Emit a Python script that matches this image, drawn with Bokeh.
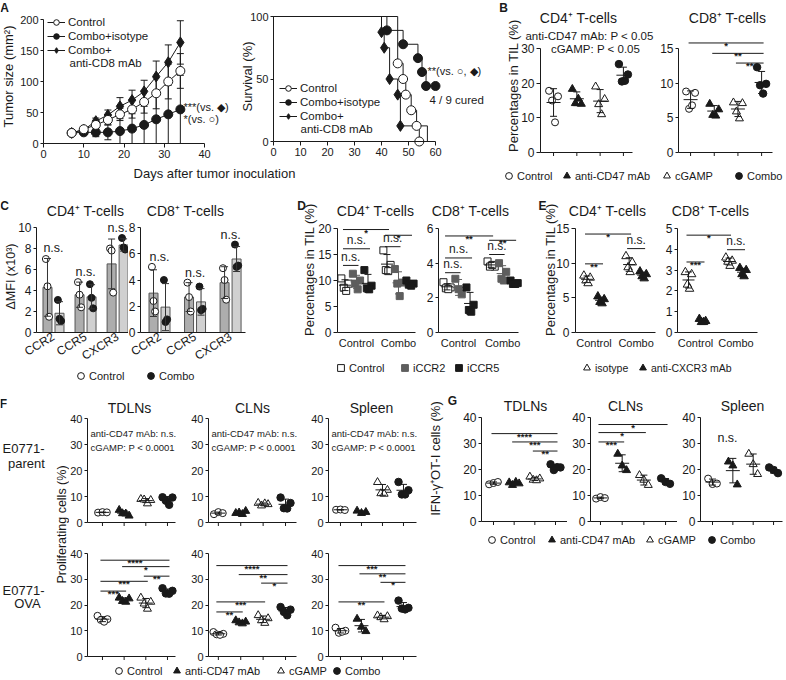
import statistics as st
from math import pi

from bokeh.plotting import figure
from bokeh.models import Range1d, FixedTicker, Label, Legend, LegendItem, Spacer
from bokeh.layouts import row, column
from bokeh.embed import file_html
from bokeh.resources import INLINE

# ---------------- A: tumour growth (mm2) ----------------
days = [7, 10, 13, 16, 19, 22, 25, 28, 31, 34]
tumor_control = [17, 23, 30, 38, 47, 55, 67, 81, 100, 117]
tumor_control_sd = [0, 3, 4, 8, 10, 14, 18, 25, 28, 28]
tumor_combo = [17, 18, 18, 18, 20, 24, 30, 39, 47, 55]
tumor_combo_sd = [0, 3, 7, 12, 20, 24, 30, 39, 47, 55]
tumor_cd8 = [17, 22, 36, 46, 60, 70, 84, 108, 131, 163]
tumor_cd8_sd = [0, 3, 5, 8, 14, 16, 18, 25, 28, 35]

# ---------------- A: survival (%) ----------------
surv_control_t = [0, 46, 48, 49, 51, 53, 54]
surv_control = [100, 62.5, 50, 37.5, 25, 12.5, 0]
surv_combo_t = [0, 42, 48, 53.5, 55, 56.5, 60]
surv_combo = [100, 88.9, 77.8, 66.7, 55.6, 44.4, 44.4]
surv_cd8_t = [0, 40, 41, 43, 46, 47, 57]
surv_cd8 = [100, 87.5, 75, 50, 37.5, 12.5, 0]

# ---------------- B ----------------
groups4 = ["Control", "anti-CD47 mAb", "cGAMP", "Combo"]
B_cd4 = [[17.8, 16.2, 15.0, 8.7], [18.3, 14.0, 14.2, 15.5], [19.0, 15.4, 13.9, 11.0], [25.5, 22.5, 20.5, 20.7]]
B_cd8 = [[8.8, 8.6, 6.3, 6.8], [7.0, 6.2, 5.4, 5.3], [7.2, 7.1, 5.9, 4.9], [12.3, 9.9, 9.7, 8.5]]
B_cd8_sig = [(1, 4, "*", 15.8), (2, 4, "**", 14.3), (3, 4, "**", 12.9)]

# ---------------- C ----------------
C_receptors = ["CCR2", "CCR5", "CXCR3"]
C_cd4_control = [[7.0, 4.4, 1.5], [4.8, 3.6, 2.4], [8.0, 7.8, 3.8]]
C_cd4_combo = [[3.1, 1.3, 1.1], [4.6, 3.3, 2.3], [9.0, 8.1, 7.9]]
C_cd8_control = [[5.0, 2.4, 1.6], [3.8, 2.7, 1.6], [4.9, 4.0, 2.5]]
C_cd8_combo = [[4.0, 0.8, 1.0], [3.5, 1.7, 1.8], [6.7, 5.0, 5.1]]

# ---------------- D ----------------
D_groups = ["Control", "Combo"]
D_treat = ["Control", "iCCR2", "iCCR5"]
D_cd4_control = [[10.4, 9.4, 8.6, 8.0], [11.3, 10.0, 9.4, 8.3], [12.0, 9.0, 8.5, 8.3]]
D_cd4_combo = [[15.8, 13.0, 12.0, 11.8], [12.2, 9.6, 9.4, 7.0], [10.0, 9.4, 9.2, 9.0]]
D_cd8_control = [[2.9, 2.6, 2.55, 2.5], [3.1, 2.5, 2.2], [2.6, 1.6, 1.3, 1.2]]
D_cd8_combo = [[4.1, 3.8, 3.8, 3.9], [4.0, 3.5, 3.1, 3.0], [3.0, 2.85, 2.8, 2.8]]
D_cd4_sig = [((0, 0), (1, 0), "*", 19.8), ((1, 0), (1, 2), "*", 18.7), ((0, 0), (0, 2), "n.s.", 16.1),
             ((0, 0), (0, 1), "n.s.", 12.9), ((1, 0), (1, 1), "n.s.", 16.5)]
D_cd8_sig = [((0, 0), (1, 0), "**", 5.57), ((1, 0), (1, 2), "**", 5.32), ((0, 0), (0, 2), "n.s.", 4.3),
             ((0, 0), (0, 1), "n.s.", 3.45), ((1, 0), (1, 1), "n.s.", 4.5)]

# ---------------- E ----------------
E_treat = ["isotype", "anti-CXCR3 mAb"]
E_cd4_control = [[8.2, 7.9, 7.5, 7.1], [5.2, 4.8, 4.4, 4.2]]
E_cd4_combo = [[11.0, 10.1, 9.4, 8.7], [8.8, 8.4, 8.1, 7.8]]
E_cd8_control = [[2.9, 2.8, 2.3, 2.1], [0.65, 0.55, 0.5, 0.5]]
E_cd8_combo = [[3.6, 3.45, 3.4, 3.2], [3.1, 3.0, 2.8, 2.7]]
E_cd4_sig = [((0, 0), (1, 0), "*", 14.2), ((0, 0), (0, 1), "**", 9.9), ((1, 0), (1, 1), "n.s.", 12.1)]
E_cd8_sig = [((0, 0), (1, 0), "*", 4.68), ((0, 0), (0, 1), "***", 3.39), ((1, 0), (1, 1), "n.s.", 3.98)]

# ---------------- F: proliferating cells (%) ----------------
organs = ["TDLNs", "CLNs", "Spleen"]
F_parent_TDLN = [[3.8, 4.0, 3.9], [4.8, 2.6, 3.5, 3.4], [9.0, 8.6, 8.8, 7.3], [9.7, 9.6, 8.4, 6.8]]
F_parent_CLN = [[3.2, 4.0, 3.6], [3.6, 4.4, 3.8, 3.2], [7.5, 7.0, 6.5, 7.3], [9.6, 7.5, 5.5, 5.4]]
F_parent_spleen = [[4.9, 5.0, 4.8], [4.5, 3.6, 4.0], [15.5, 12.5, 11.2, 11.0], [15.6, 12.4, 10.8, 10.8]]
F_ova_TDLN = [[15.8, 14.5, 14.2, 13.5], [22.8, 22.5, 21.5, 21.2], [22.8, 21.2, 20.5, 18.5], [26.5, 25.5, 24.5, 24.4]]
F_ova_CLN = [[9.5, 8.8, 8.6, 8.4], [14.0, 13.5, 13.2, 12.8], [16.0, 14.8, 14.0, 13.0], [19.2, 18.2, 17.3, 16.0]]
F_ova_spleen = [[11.2, 10.0, 9.2, 9.6], [14.6, 11.5, 9.8], [15.9, 15.6, 15.2, 14.4], [21.7, 18.9, 18.6, 18.3]]
F_ova_TDLN_sig = [(1, 4, "****", 37.4), (2, 4, "*", 34.9), (3, 4, "**", 31.2), (1, 3, "***", 29.2), (1, 2, "***", 25.4)]
F_ova_CLN_sig = [(1, 4, "****", 35.3), (2, 4, "**", 31.8), (3, 4, "*", 28.5), (1, 3, "***", 21.2), (1, 2, "**", 17.3)]
F_ova_spleen_sig = [(1, 4, "***", 35.3), (2, 4, "**", 32.1), (3, 4, "*", 28.8), (1, 3, "**", 21.2)]
F_stats = ["anti-CD47 mAb: n.s.", "cGAMP: P < 0.0001"]

# ---------------- G: IFN-g+ OT-I cells (%) ----------------
G_TDLN = [[14.3, 14.8, 15.2], [15.0, 14.6, 14.0, 15.2], [17.2, 16.5, 16.0, 15.8], [22.0, 20.8, 19.8, 20.9]]
G_CLN = [[8.8, 9.4, 9.0], [26.0, 21.5, 19.7], [17.8, 16.0, 14.0], [16.6, 15.2, 14.5]]
G_spleen = [[16.5, 14.4, 14.6], [23.0, 21.5, 14.2], [26.0, 22.0, 18.2], [20.8, 19.8, 18.6]]
G_TDLN_sig = [(1, 4, "****", 33.8), (2, 4, "***", 30.6), (3, 4, "**", 27.1)]
G_CLN_sig = [(1, 4, "*", 37.3), (1, 3, "*", 34.2), (1, 2, "***", 30.6)]

# =====================================================================
FONT = "Liberation Sans"
INK = "#1a1a1a"
GRAY = "#5e5e5e"
BAR_CTRL = "#adadad"
BAR_COMBO = "#d0d0d0"


def LX(x):
    return int(round(x))


def LY(y):
    return int(round(y))


META = {}


def make_fig(outer, frame, xr, yr, axes=True):
    """Whole canvas is the frame; the plotting area is emulated with extended
    ranges and axes fixed at the data edge of that area."""
    ox0, oy0, ox1, oy1 = outer
    fx0, fy0, fx1, fy1 = frame
    W, H = LX(ox1) - LX(ox0), LY(oy1) - LY(oy0)
    fl, fr = LX(fx0) - LX(ox0), LX(fx1) - LX(ox0)
    ft, fb = LY(fy0) - LY(oy0), LY(fy1) - LY(oy0)
    dx = (xr[1] - xr[0]) / (fr - fl)
    dy = (yr[1] - yr[0]) / (fb - ft)
    X = (xr[0] - fl * dx, xr[1] + (W - fr) * dx)
    Y = (yr[0] - (H - fb) * dy, yr[1] + ft * dy)
    kw = dict(width=W, height=H, x_range=Range1d(*X), y_range=Range1d(*Y), min_border=0,
              output_backend="svg", toolbar_location=None, tools="", title=None)
    if not axes:
        kw["x_axis_type"] = None
        kw["y_axis_type"] = None
    p = figure(**kw)
    p.outline_line_color = None
    p.background_fill_color = "white"
    p.border_fill_color = "white"
    p.xgrid.visible = False
    p.ygrid.visible = False
    if axes:
        p.yaxis[0].fixed_location = xr[0]
        p.xaxis[0].fixed_location = yr[0]
    META[p.id] = (frame, xr, yr)
    return p


def blank(outer):
    return make_fig(outer, outer, (0, 1), (0, 1), axes=False)


def to_data(p, rx, ry):
    (fx0, fy0, fx1, fy1), (x0, x1), (y0, y1) = META[p.id]
    return (x0 + (rx - fx0) / (fx1 - fx0) * (x1 - x0),
            y0 + (fy1 - ry) / (fy1 - fy0) * (y1 - y0))


def to_ref(p, x, y):
    (fx0, fy0, fx1, fy1), (x0, x1), (y0, y1) = META[p.id]
    return (fx0 + (x - x0) / (x1 - x0) * (fx1 - fx0),
            fy1 - (y - y0) / (y1 - y0) * (fy1 - fy0))


def ppu(p):
    (fx0, _, fx1, _), (x0, x1), _ = META[p.id]
    return (fx1 - fx0) / (x1 - x0)


def ppu_y(p):
    (_, fy0, _, fy1), _, (y0, y1) = META[p.id]
    return (fy1 - fy0) / (y1 - y0)


def txt(p, rx, ry, s, size=12, align="center", baseline="middle", style="normal", angle=0.0):
    x, y = to_data(p, rx, ry)
    p.add_layout(Label(x=x, y=y, text=s, text_font=FONT, text_font_size=f"{size}px",
                       text_font_style=style, text_color=INK, text_align=align,
                       text_baseline=baseline, angle=angle))


def style_ax(ax, ticks, font=12, tick_out=4, standoff=2, bounds=None):
    ax.ticker = FixedTicker(ticks=ticks)
    if bounds is not None:
        ax.bounds = bounds
    ax.axis_line_color = INK
    ax.major_tick_line_color = INK if tick_out else None
    ax.minor_tick_line_color = None
    ax.major_tick_in = 0
    ax.major_tick_out = tick_out
    ax.major_label_standoff = standoff
    ax.major_label_text_font = FONT
    ax.major_label_text_font_size = f"{font}px"
    ax.major_label_text_color = INK


def yax(p, ticks, font=12, tick_out=4, standoff=2):
    style_ax(p.yaxis[0], ticks, font, tick_out, standoff, (ticks[0], ticks[-1]))


def ylabel(p, rx, ry, s, size=13):
    txt(p, rx, ry, s, size, angle=pi / 2)


def xax_num(p, ticks, font=11):
    style_ax(p.xaxis[0], ticks, font, 4, 2, (ticks[0], ticks[-1]))


def xax_cat(p, n, tick_len=3.5):
    """x axis line plus plain tick marks under each group (no tick labels)."""
    _, xr, _ = META[p.id]
    style_ax(p.xaxis[0], [], 12, 0, 0, xr)
    cats = list(range(1, n + 1))
    p.segment(cats, [0] * n, cats, [-tick_len / ppu_y(p)] * n, line_color=INK, line_width=1)


def xax_lab(p, labels, font=12, standoff=4, orient=None):
    _, xr, _ = META[p.id]
    ax = p.xaxis[0]
    style_ax(ax, list(range(1, len(labels) + 1)), font, 0, standoff, xr)
    ax.major_label_overrides = {i + 1: s for i, s in enumerate(labels)}
    if orient is not None:
        ax.major_label_orientation = orient


JIT = {3: [-4.0, 0.0, 4.0], 4: [-4.5, 4.5, -1.5, 1.5]}


def dots(p, xc, vals, marker, fill, line=INK, size=7, jit=1.0, stat=INK, mean_w=14, cap_w=7):
    u = ppu(p)
    xs = [xc + o * jit / u for o in JIT[len(vals)]]
    p.scatter(xs, vals, marker=marker, size=size, fill_color=fill, line_color=line, line_width=1)
    m = st.mean(vals)
    s = st.stdev(vals)
    p.segment([xc], [m - s], [xc], [m + s], line_color=stat, line_width=1)
    p.scatter([xc, xc], [m - s, m + s], marker="dash", size=cap_w, line_color=stat, line_width=1)
    if mean_w:
        p.scatter([xc], [m], marker="dash", size=mean_w, line_color=stat, line_width=1)
    return m, s


def sig(p, xa, xb, yv, label):
    u = ppu(p)
    p.segment([xa - 2 / u], [yv], [xb + 2 / u], [yv], line_color=INK, line_width=1)
    rx, ry = to_ref(p, (xa + xb) / 2, yv)
    if label.startswith("*"):
        txt(p, rx, ry + 2.5, label, size=9.5, baseline="alphabetic", style="bold")
    else:
        txt(p, rx, ry - 1.5, label, size=12, baseline="bottom")


def style_legend(leg, font, gw, gh, spacing, standoff):
    leg.label_text_font = FONT
    leg.label_text_font_size = f"{font}px"
    leg.label_text_color = INK
    leg.glyph_width = gw
    leg.glyph_height = gh
    leg.label_height = gh
    leg.label_width = 0
    leg.spacing = spacing
    leg.label_standoff = standoff
    leg.padding = 0
    leg.margin = 0
    leg.border_line_color = None
    leg.background_fill_alpha = 0


def legend_fig(outer, entries, centers, y_ref, font=11, glyph=17):
    """One single-entry legend per key, each placed at its marker centre."""
    p = blank(outer)
    for (label, marker, fill, line), cx in zip(entries, centers):
        # key-only renderer: its single point lies outside the visible range
        r = p.scatter(x=[-5], y=[-5], marker=marker, fill_color=fill, line_color=line, size=7)
        leg = Legend(items=[LegendItem(label=label, renderers=[r])],
                     location=(int(round(cx - glyph / 2 - outer[0])),
                               int(round(outer[3] - (y_ref + glyph / 2)))))
        style_legend(leg, font, glyph, glyph, 0, 0)
        p.add_layout(leg)
    return p


def inner_legend(p, outer, items, x_ref, top_ref, row_h=14):
    leg = Legend(items=items, location=(LX(x_ref) - LX(outer[0]),
                                        LY(outer[3]) - LY(top_ref) - row_h * len(items)))
    style_legend(leg, 11.5, 18, row_h, 0, 3)
    p.add_layout(leg)


MARK4 = [("circle", "white", 7), ("triangle", INK, 8), ("triangle", "white", 8), ("circle", INK, 7.5)]
LEG4 = [(g, m, f, INK) for g, (m, f, _) in zip(groups4, MARK4)]

# ============================ ROW 1 ============================
A1_out = (0, 0, 238, 164)
A1 = make_fig(A1_out, (43, 19, 204, 143), (0, 40), (0, 200))
yax(A1, [0, 50, 100, 150, 200], font=11, tick_out=3)
xax_num(A1, [0, 10, 20, 30, 40])
ylabel(A1, 8, 76, "Tumor size (mm²)", 13)


def growth(p, y, sd, marker, fill, size):
    lo = [max(m - s, 0) for m, s in zip(y, sd)]
    hi = [m + s for m, s in zip(y, sd)]
    p.segment(days, lo, days, hi, line_color=INK, line_width=1)
    p.scatter(days + days, lo + hi, marker="dash", size=7, line_color=INK, line_width=1)
    ln = p.line(days, y, line_color=INK, line_width=1)
    sc = p.scatter(days, y, marker=marker, size=size, fill_color=fill, line_color=INK, line_width=1)
    return ln, sc


gl_combo = growth(A1, tumor_combo, tumor_combo_sd, "circle", INK, 9)
gl_cd8 = growth(A1, tumor_cd8, tumor_cd8_sd, "diamond", INK, 11)
gl_ctrl = growth(A1, tumor_control, tumor_control_sd, "circle", "white", 9)
inner_legend(A1, A1_out, [LegendItem(label="Control", renderers=list(gl_ctrl)),
                          LegendItem(label="Combo+isotype", renderers=list(gl_combo)),
                          LegendItem(label="Combo+", renderers=list(gl_cd8))], 47, 15)
txt(A1, 69, 62, "anti-CD8 mAb", 11.5, align="left")
txt(A1, 183, 106, "***(vs. ◆)", 11, align="left")
txt(A1, 183, 118, "*(vs. ○)", 11, align="left")
txt(A1, 4, 0, "A", 12, style="bold", baseline="top")

A2_out = (238, 0, 490, 164)
A2 = make_fig(A2_out, (273, 16, 435, 141), (0, 60), (0, 100))
yax(A2, [0, 50, 100], font=11, tick_out=3)
xax_num(A2, [0, 10, 20, 30, 40, 50, 60])
ylabel(A2, 247, 76, "Survival (%)", 13)


def km(p, t, s, marker, fill, size, last=True):
    ln = p.step(t, s, mode="after", line_color=INK, line_width=1)
    end = len(t) if last else len(t) - 1
    sc = p.scatter(t[1:end], s[1:end], marker=marker, size=size, fill_color=fill,
                   line_color=INK, line_width=1)
    return ln, sc


km_cd8 = km(A2, surv_cd8_t, surv_cd8, "diamond", INK, 11, last=False)
km_combo = km(A2, surv_combo_t, surv_combo, "circle", INK, 9)
km_ctrl = km(A2, surv_control_t, surv_control, "circle", "white", 9)
inner_legend(A2, A2_out, [LegendItem(label="Control", renderers=list(km_ctrl)),
                          LegendItem(label="Combo+isotype", renderers=list(km_combo)),
                          LegendItem(label="Combo+", renderers=list(km_cd8))], 279, 81)
txt(A2, 300, 128, "anti-CD8 mAb", 11.5, align="left")
txt(A2, 427, 70, "**(vs. ○, ◆)", 11, align="left")
txt(A2, 429, 99, "4 / 9 cured", 11.5, align="left")

A_lab = blank((0, 164, 490, 192))
txt(A_lab, 214, 173, "Days after tumor inoculation", 13)

# --- B
B1 = make_fig((490, 0, 658, 164), (540, 48, 632, 152), (0.44, 4.39), (0, 30))
yax(B1, [0, 10, 20, 30])
xax_cat(B1, 4)
ylabel(B1, 513, 85, "Percentages in TIL (%)", 13)
for i, vals in enumerate(B_cd4):
    mk, fl, sz = MARK4[i]
    dots(B1, i + 1, vals, mk, fl, size=sz)
txt(B1, 503, 0, "B", 12, style="bold", baseline="top")
txt(B1, 578, 17, "CD4⁺ T-cells", 14)
txt(B1, 589, 35, "anti-CD47 mAb: P < 0.05", 11.5)
txt(B1, 595, 48, "cGAMP: P < 0.05", 11.5)

B2 = make_fig((658, 0, 783, 164), (678, 48, 772, 152), (0.49, 4.46), (0, 15))
yax(B2, [0, 5, 10, 15], tick_out=3)
xax_cat(B2, 4)
for i, vals in enumerate(B_cd8):
    mk, fl, sz = MARK4[i]
    dots(B2, i + 1, vals, mk, fl, size=sz)
for a, b, lab, yv in B_cd8_sig:
    sig(B2, a, b, yv, lab)
txt(B2, 727, 17, "CD8⁺ T-cells", 14)

B_leg = legend_fig((490, 164, 783, 192), LEG4, [508, 567, 667, 738], 175)

# ============================ ROW 2 ============================


def bars(p, ctrl, combo, off_px=6, w_px=9):
    u = ppu(p)
    off, w = off_px / u, w_px / u
    for gi, (a, b) in enumerate(zip(ctrl, combo)):
        top = -1
        for xc, vals, fill, mfill in ((gi + 1 - off, a, BAR_CTRL, "white"),
                                      (gi + 1 + off, b, BAR_COMBO, INK)):
            p.vbar(x=[xc], top=[st.mean(vals)], width=w, bottom=0, fill_color=fill,
                   line_color="#555555", line_width=1)
            m, s = dots(p, xc, vals, "circle", mfill, size=7, jit=0.4, mean_w=0, stat="#333333")
            top = max(top, max(vals), m + s)
        rx, ry = to_ref(p, gi + 1, top)
        txt(p, rx, ry - 10, "n.s.", 12.5)


C1 = make_fig((0, 192, 128, 366), (36, 227, 128, 332), (0.47, 3.34), (0, 10))
yax(C1, [0, 2, 4, 6, 8, 10], tick_out=3)
xax_lab(C1, C_receptors, orient=0.55, standoff=3)
ylabel(C1, 10, 276, "ΔMFI (x10³)", 12.5)
bars(C1, C_cd4_control, C_cd4_combo)
txt(C1, 4, 198, "C", 12, style="bold", baseline="top")
txt(C1, 85, 210, "CD4⁺ T-cells", 14)

C2 = make_fig((128, 192, 262, 366), (140, 227, 245, 332), (0.465, 3.42), (0, 8))
yax(C2, [0, 2, 4, 6, 8], tick_out=3)
xax_lab(C2, C_receptors, orient=0.55, standoff=3)
bars(C2, C_cd8_control, C_cd8_combo)
txt(C2, 185, 210, "CD8⁺ T-cells", 14)

C_leg = legend_fig((0, 366, 262, 384), [("Control", "circle", "white", INK), ("Combo", "circle", INK, INK)],
                   [80, 151], 375)

D_MARK = [("square", "white", INK), ("square", GRAY, GRAY), ("square", INK, INK)]
E_MARK = [("triangle", "white", INK), ("triangle", INK, INK)]


def grouped(p, ctrl, combo, marks, sub_px, size, jit=0.8, mean_w=12):
    u = ppu(p)
    n = len(marks)
    pos = {}
    for g, groups in enumerate((ctrl, combo)):
        for s, vals in enumerate(groups):
            xc = g + 1 + (s - (n - 1) / 2) * sub_px / u
            pos[(g, s)] = xc
            mk, fl, ln = marks[s]
            dots(p, xc, vals, mk, fl, line=ln, size=size, stat=ln, jit=jit, mean_w=mean_w)
    return pos


D1 = make_fig((262, 192, 426, 356), (337, 228, 415, 332), (0.548, 2.405), (0, 20))
yax(D1, [0, 5, 10, 15, 20])
xax_lab(D1, D_groups, font=11, standoff=4)
ylabel(D1, 309, 269, "Percentages in TIL (%)", 13)
posD1 = grouped(D1, D_cd4_control, D_cd4_combo, D_MARK, 11.5, 7)
for a, b, lab, yv in D_cd4_sig:
    sig(D1, posD1[a], posD1[b], yv, lab)
txt(D1, 301, 198, "D", 12, style="bold", baseline="top")
txt(D1, 375, 210, "CD4⁺ T-cells", 14)

D2 = make_fig((426, 192, 530, 356), (438, 228, 518, 332), (0.545, 2.36), (0, 6))
yax(D2, [0, 2, 4, 6], tick_out=3)
xax_lab(D2, D_groups, font=11, standoff=4)
posD2 = grouped(D2, D_cd8_control, D_cd8_combo, D_MARK, 11.5, 7)
for a, b, lab, yv in D_cd8_sig:
    sig(D2, posD2[a], posD2[b], yv, lab)
txt(D2, 470, 210, "CD8⁺ T-cells", 14)

D_leg = legend_fig((262, 356, 530, 384), [(t, m, f, l) for t, (m, f, l) in zip(D_treat, D_MARK)],
                   [341, 404, 458], 368)

E1 = make_fig((530, 192, 665, 356), (575, 228, 655, 332), (0.56, 2.46), (0, 15))
yax(E1, [0, 5, 10, 15])
xax_lab(E1, D_groups, font=11, standoff=4)
ylabel(E1, 550, 269, "Percentages in TIL (%)", 13)
posE1 = grouped(E1, E_cd4_control, E_cd4_combo, E_MARK, 14, 8.5, jit=0.7, mean_w=12)
for a, b, lab, yv in E_cd4_sig:
    sig(E1, posE1[a], posE1[b], yv, lab)
txt(E1, 542, 198, "E", 12, style="bold", baseline="top")
txt(E1, 607, 210, "CD4⁺ T-cells", 14)

E2 = make_fig((665, 192, 783, 356), (677, 228, 757, 332), (0.556, 2.53), (0, 5))
yax(E2, [0, 1, 2, 3, 4, 5], tick_out=3)
xax_lab(E2, D_groups, font=11, standoff=4)
posE2 = grouped(E2, E_cd8_control, E_cd8_combo, E_MARK, 14, 8.5, jit=0.7, mean_w=12)
for a, b, lab, yv in E_cd8_sig:
    sig(E2, posE2[a], posE2[b], yv, lab)
txt(E2, 710, 210, "CD8⁺ T-cells", 14)

E_leg = legend_fig((530, 356, 783, 384), [(t, m, f, l) for t, (m, f, l) in zip(E_treat, E_MARK)],
                   [586, 642], 367, font=10.5)

# ============================ ROW 3 ============================
F_cols = [(69, 185, 87, 175, (0.31, 4.37)), (185, 305, 208, 296, (0.56, 4.49)), (305, 425, 328, 416, (0.43, 4.62))]
F_title_x = [129, 252, 371]
F_top_data = [F_parent_TDLN, F_parent_CLN, F_parent_spleen]
F_bot_data = [F_ova_TDLN, F_ova_CLN, F_ova_spleen]
F_bot_sig = [F_ova_TDLN_sig, F_ova_CLN_sig, F_ova_spleen_sig]


def scatter4(p, data):
    for i, vals in enumerate(data):
        mk, fl, sz = MARK4[i]
        dots(p, i + 1, vals, mk, fl, size=sz, jit=1.1)


F_top, F_bot = [], []
for k, (ox0, ox1, fx0, fx1, xr) in enumerate(F_cols):
    pt = make_fig((ox0, 384, ox1, 538), (fx0, 418, fx1, 522), xr, (0, 40))
    yax(pt, [0, 10, 20, 30, 40], font=11, tick_out=3, standoff=2)
    xax_cat(pt, 4)
    scatter4(pt, F_top_data[k])
    txt(pt, F_title_x[k], 407, organs[k], 14)
    txt(pt, fx0 + 3, 433, F_stats[0], 9.5, align="left")
    txt(pt, fx0 + 3, 447, F_stats[1], 9.5, align="left")
    F_top.append(pt)

    pb = make_fig((ox0, 538, ox1, 663), (fx0, 553, fx1, 656), xr, (0, 40))
    yax(pb, [0, 10, 20, 30, 40], font=11, tick_out=3, standoff=2)
    xax_cat(pb, 4)
    scatter4(pb, F_bot_data[k])
    for a, b, lab, yv in F_bot_sig[k]:
        sig(pb, a, b, yv, lab)
    F_bot.append(pb)

F_left = blank((0, 384, 69, 663))
txt(F_left, 3, 396, "F", 12, style="bold", baseline="top")
txt(F_left, 23, 448, "E0771-", 13)
txt(F_left, 26, 463, "parent", 13)
txt(F_left, 23, 590, "E0771-", 13)
txt(F_left, 27, 603, "OVA", 13)
txt(F_left, 61.5, 524, "Proliferating cells (%)", 12.5, angle=pi / 2)

F_leg = legend_fig((0, 663, 425, 678), LEG4, [118, 177, 280, 337], 670.5)

G_cols = [(425, 567, 481, 567, (0.42, 4.58)), (567, 677, 590, 677, (0.54, 4.55)), (677, 783, 700, 782, (0.41, 4.44))]
G_title_x = [525, 625, 742]
G_data = [G_TDLN, G_CLN, G_spleen]
G_sig = [G_TDLN_sig, G_CLN_sig, []]
G_figs = []
for k, (ox0, ox1, fx0, fx1, xr) in enumerate(G_cols):
    pg = make_fig((ox0, 384, ox1, 530), (fx0, 417, fx1, 521), xr, (0, 40))
    yax(pg, [0, 10, 20, 30, 40], tick_out=3)
    xax_cat(pg, 4)
    scatter4(pg, G_data[k])
    for a, b, lab, yv in G_sig[k]:
        sig(pg, a, b, yv, lab)
    txt(pg, G_title_x[k], 405, organs[k], 14)
    G_figs.append(pg)
ylabel(G_figs[0], 435, 458, "IFN-γ⁺OT-I cells (%)", 13)
txt(G_figs[0], 452, 393, "G", 12, style="bold", baseline="top")
txt(G_figs[2], 727, 437, "n.s.", 12.5)

G_leg = legend_fig((425, 530, 783, 548), LEG4, [492, 552, 650, 712], 539)
G_pad = Spacer(width=LX(783) - LX(425), height=LY(678) - LY(548))

# ============================ LAYOUT ============================
row1 = row(column(row(A1, A2), A_lab), column(row(B1, B2), B_leg))
row2 = row(column(row(C1, C2), C_leg), column(row(D1, D2), D_leg), column(row(E1, E2), E_leg))
F_block = column(row(F_left, column(row(*F_top), row(*F_bot))), F_leg)
G_block = column(row(*G_figs), G_leg, G_pad)
row3 = row(F_block, G_block)
page = column(row1, row2, row3)

open("out.html", "w").write(file_html(page, INLINE))
